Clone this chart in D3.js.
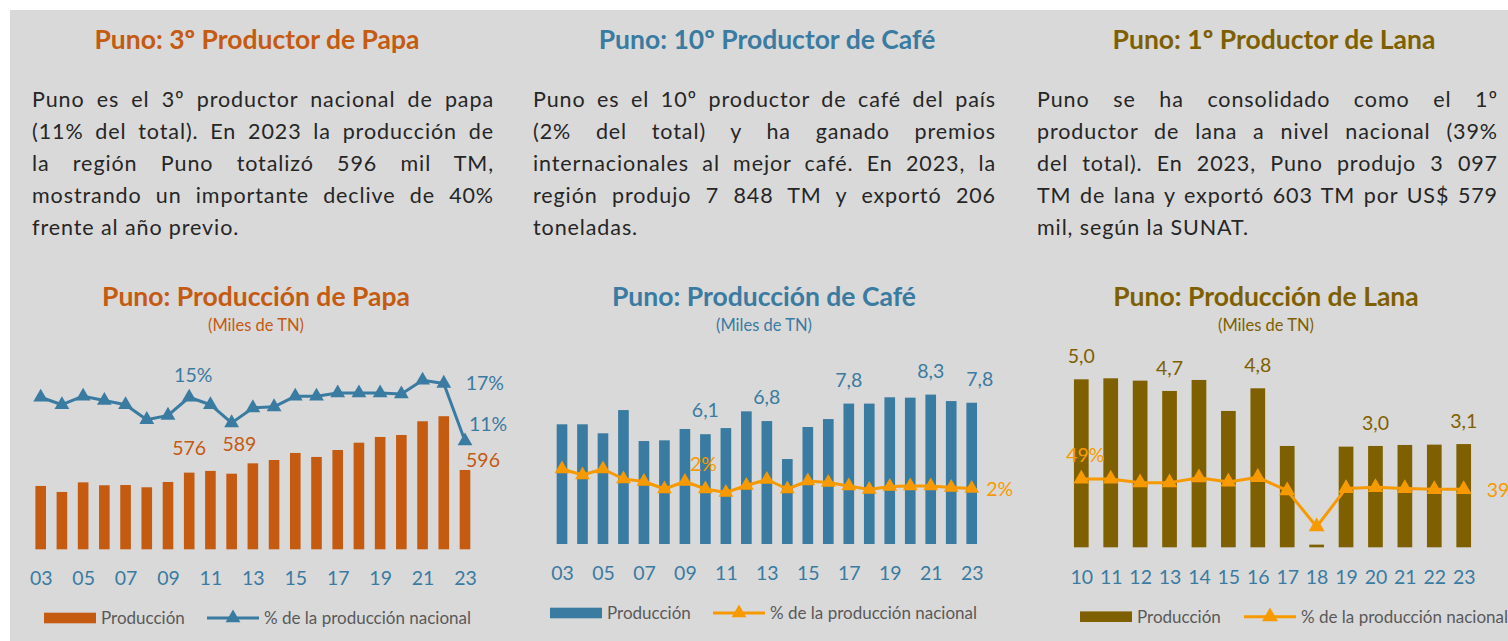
<!DOCTYPE html>
<html><head><meta charset="utf-8">
<script src="https://cdn.jsdelivr.net/npm/d3@7"></script>
<style>html,body{margin:0;padding:0;background:#fff;} svg{display:block;}</style>
</head><body><svg id="c" width="1508" height="641"></svg>
<script>
// ---------------- DATA ----------------
const papaYears = ['03','04','05','06','07','08','09','10','11','12','13','14','15','16','17','18','19','20','21','22','23'];
const papaProd  = [476,431,503,481,483,466,506,576,589,568,646,671,724,694,746,801,844,859,962,1000,596];
const papaPct   = [15.4,14.7,15.5,15.1,14.7,13.3,13.7,15.4,14.7,13.0,14.4,14.5,15.5,15.5,15.8,15.8,15.8,15.7,17.0,16.7,11.3];
const papaTicks = ['03','05','07','09','11','13','15','17','19','21','23'];
const papaBarLabelYears = ['10','11','23'];
const papaPctLabelYears = ['10','22','23'];

const cafeYears = ['03','04','05','06','07','08','09','10','11','12','13','14','15','16','17','18','19','20','21','22','23'];
const cafeProd  = [6.65,6.65,6.15,7.44,5.72,5.76,6.39,6.1,6.44,7.37,6.83,4.72,6.5,6.94,7.8,7.8,8.15,8.13,8.3,7.94,7.848];
const cafePct   = [2.4,2.28,2.4,2.2,2.15,2.0,2.15,2.0,1.93,2.07,2.19,2.0,2.16,2.13,2.06,1.99,2.05,2.06,2.06,2.03,2.01];
const cafeTicks = ['03','05','07','09','11','13','15','17','19','21','23'];
const cafeBarLabelYears = ['10','13','17','21','23'];
const cafePctLabelYears = ['10','23'];

const lanaYears = ['10','11','12','13','14','15','16','17','18','19','20','21','22','23'];
const lanaProd  = [5.04,5.07,5.0,4.69,5.02,4.09,4.77,3.04,0.08,3.02,3.04,3.07,3.08,3.097];
const lanaPct   = [49,49,45.6,45.6,50.2,46.2,50.6,38.1,4.3,40.2,41.2,40.2,39.3,39.3];
const lanaTicks = lanaYears;
const lanaBarLabelYears = ['10','13','16','20','23'];
const lanaPctLabelYears = ['10','23'];

const headTitles = ['Puno: 3º Productor de Papa','Puno: 10º Productor de Café','Puno: 1º Productor de Lana'];
const chartTitles = ['Puno: Producción de Papa','Puno: Producción de Café','Puno: Producción de Lana'];
const subTitle = '(Miles de TN)';
const legendLabels = ['Producción','% de la producción nacional'];
const papaText = ['Puno es el 3º productor nacional de papa','(11% del total). En 2023 la producción de','la región Puno totalizó 596 mil TM,','mostrando un importante declive de 40%','frente al año previo.'];
const cafeText = ['Puno es el 10º productor de café del país','(2% del total) y ha ganado premios','internacionales al mejor café. En 2023, la','región produjo 7 848 TM y exportó 206','toneladas.'];
const lanaText = ['Puno se ha consolidado como el 1º','productor de lana a nivel nacional (39%','del total). En 2023, Puno produjo 3 097','TM de lana y exportó 603 TM por US$ 579','mil, según la SUNAT.'];

// ---------------- STYLE ----------------
const FONT = "Lato, 'Open Sans', sans-serif";
const C_ORANGE = '#C55A11', C_BLUE = '#3A7BA1', C_BROWN = '#7F6000', C_LORANGE = '#F79A00';
const C_BG = '#D9D9D9', C_TEXT = '#262626', C_LEG = '#595959';
const fmtInt = d => d3.format('.0f')(d);
const fmtDec = d => d3.format('.1f')(d).replace('.', ',');
const fmtPct = d => d3.format('.0f')(d) + '%';

const svg = d3.select('#c');
svg.append('rect').attr('x',10).attr('y',10).attr('width',1498).attr('height',631).attr('fill',C_BG);

// ---------------- TEXT BLOCKS ----------------
function textBlock(lines, x0, x1) {
  const g = svg.append('g').attr('font-family', FONT).attr('font-size', 21.5)
    .attr('letter-spacing', 0.9).attr('fill', C_TEXT);
  lines.forEach((ln, i) => {
    const t = g.append('text').attr('x', x0).attr('y', 107 + i * 32).text(ln);
    if (i < lines.length - 1) {
      const w = t.node().getComputedTextLength();
      const gaps = (ln.match(/ /g) || []).length;
      if (gaps) t.attr('word-spacing', (x1 - x0 - w) / gaps);
    }
  });
}
const heads = [{x:257,c:C_ORANGE},{x:767,c:C_BLUE},{x:1274,c:C_BROWN}];
headTitles.forEach((t, i) => {
  svg.append('text').attr('x', heads[i].x).attr('y', 49).attr('text-anchor','middle')
    .attr('font-family', FONT).attr('font-weight', 700).attr('font-size', 26.5).attr('fill', heads[i].c).text(t);
});
textBlock(papaText, 32, 494);
textBlock(cafeText, 533, 996);
textBlock(lanaText, 1037, 1498);

// ---------------- CHARTS ----------------
function chart(cfg) {
  const g = svg.append('g');
  const x = d3.scalePoint().domain(cfg.years).range(cfg.xRange);
  const bw = x.step() * cfg.barFrac;
  const y = d3.scaleLinear().domain(cfg.yDomain).range(cfg.yRange);
  const y2 = d3.scaleLinear().domain(cfg.y2Domain).range(cfg.y2Range);
  const cx = cfg.titleX;

  g.append('text').attr('x', cx).attr('y', 306).attr('text-anchor','middle').attr('font-family',FONT)
    .attr('font-weight',700).attr('font-size',26.5).attr('fill',cfg.titleColor).text(cfg.title);
  g.append('text').attr('x', cx).attr('y', 331).attr('text-anchor','middle').attr('font-family',FONT)
    .attr('font-size',16.5).attr('fill',cfg.titleColor).text(subTitle);

  // bars
  g.selectAll('rect.bar').data(cfg.years).join('rect').attr('class','bar')
    .attr('x', d => x(d) - bw/2).attr('width', bw)
    .attr('y', (d,i) => y(cfg.prod[i])).attr('height', (d,i) => y(0) - y(cfg.prod[i]))
    .attr('fill', cfg.barColor);

  // line
  const line = d3.line().x((d,i) => x(cfg.years[i])).y(d => y2(d));
  g.append('path').datum(cfg.pct).attr('d', line).attr('fill','none')
    .attr('stroke', cfg.lineColor).attr('stroke-width', 3).attr('stroke-linejoin','round');
  const tri = d3.symbol().type(d3.symbolTriangle).size(cfg.triSize);
  g.selectAll('path.mk').data(cfg.pct).join('path').attr('class','mk')
    .attr('transform', (d,i) => `translate(${x(cfg.years[i])},${y2(d)})`)
    .attr('d', tri).attr('fill', cfg.lineColor);

  // axis
  const ax = d3.axisBottom(x).tickValues(cfg.ticks).tickSize(0).tickPadding(0);
  const axg = g.append('g').attr('transform', `translate(0,${cfg.axisY})`).call(ax);
  axg.select('.domain').remove();
  axg.selectAll('text').attr('font-family',FONT).attr('font-size',cfg.tickSize).attr('fill',C_BLUE);

  // bar labels
  cfg.barLabels.forEach(yr => {
    const i = cfg.years.indexOf(yr);
    const off = cfg.barLabelOff[yr] || [0, -cfg.barLabelGap];
    g.append('text').attr('x', x(yr) + off[0]).attr('y', y(cfg.prod[i]) + off[1])
      .attr('dy','0.36em').attr('text-anchor','middle').attr('font-family',FONT).attr('font-size',19.5)
      .attr('fill', cfg.barColor).text(cfg.fmt(cfg.prod[i]));
  });
  cfg.pctLabels.forEach(yr => {
    const i = cfg.years.indexOf(yr);
    const off = cfg.pctLabelOff[yr];
    g.append('text').attr('x', x(yr) + off[0]).attr('y', y2(cfg.pct[i]) + off[1])
      .attr('dy','0.36em').attr('text-anchor', off[2] || 'middle').attr('font-family',FONT).attr('font-size',19.5)
      .attr('fill', cfg.lineColor).text(fmtPct(cfg.pct[i]));
  });

  // legend
  const L = cfg.legend;
  const lg = g.append('g').attr('font-family',FONT).attr('font-size',17).attr('fill',C_LEG);
  lg.append('rect').attr('x',L.rx).attr('y',L.y-5.3).attr('width',52).attr('height',10.6).attr('fill',cfg.barColor);
  lg.append('text').attr('x',L.rx+57).attr('y',L.y).attr('dy','0.36em').text(legendLabels[0]);
  lg.append('line').attr('x1',L.lx).attr('x2',L.lx+52).attr('y1',L.y).attr('y2',L.y)
    .attr('stroke',cfg.lineColor).attr('stroke-width',3);
  lg.append('path').attr('transform',`translate(${L.lx+26},${L.y})`).attr('d',tri).attr('fill',cfg.lineColor);
  lg.append('text').attr('x',L.lx+57).attr('y',L.y).attr('dy','0.36em').text(legendLabels[1]);
}

chart({
  years: papaYears, prod: papaProd, pct: papaPct, ticks: papaTicks,
  xRange: [40.7, 465], barFrac: 0.5,
  yDomain: [0, 1200], yRange: [549.3, 389.6],
  y2Domain: [0, 20], y2Range: [561.5, 348.2],
  barColor: C_ORANGE, lineColor: C_BLUE, title: chartTitles[0], titleColor: C_ORANGE, titleX: 256,
  triSize: 95, axisY: 571, tickSize: 19.5, fmt: fmtInt,
  barLabels: papaBarLabelYears, barLabelGap: 25, barLabelOff: {'11':[29,-27], '23':[18,-10]},
  pctLabels: papaPctLabelYears, pctLabelOff: {'10':[4,-22], '22':[41,0], '23':[23,-17]},
  legend: {rx: 44, lx: 207, y: 618}
});
chart({
  years: cafeYears, prod: cafeProd, pct: cafePct, ticks: cafeTicks,
  xRange: [562, 971.7], barFrac: 0.52,
  yDomain: [0, 10], yRange: [544, 364],
  y2Domain: [0, 4], y2Range: [589, 389],
  barColor: C_BLUE, lineColor: C_LORANGE, title: chartTitles[1], titleColor: C_BLUE, titleX: 764,
  triSize: 95, axisY: 566, tickSize: 19.5, fmt: fmtDec,
  barLabels: cafeBarLabelYears, barLabelGap: 24, barLabelOff: {'23':[8,-24]},
  pctLabels: cafePctLabelYears, pctLabelOff: {'10':[-2,-25], '23':[28,0]},
  legend: {rx: 550, lx: 713, y: 613}
});
chart({
  years: lanaYears, prod: lanaProd, pct: lanaPct, ticks: lanaTicks,
  xRange: [1081.3, 1463.7], barFrac: 0.5,
  yDomain: [0, 6], yRange: [547.3, 347.3],
  y2Domain: [0, 100], y2Range: [531.3, 424.6],
  barColor: C_BROWN, lineColor: C_LORANGE, title: chartTitles[2], titleColor: C_BROWN, titleX: 1266,
  triSize: 110, axisY: 570, tickSize: 19.5, fmt: fmtDec,
  barLabels: lanaBarLabelYears, barLabelGap: 23, barLabelOff: {},
  pctLabels: lanaPctLabelYears, pctLabelOff: {'10':[4,-24], '23':[23,1,'start']},
  legend: {rx: 1080, lx: 1244, y: 616.7}
});
</script></body></html>
